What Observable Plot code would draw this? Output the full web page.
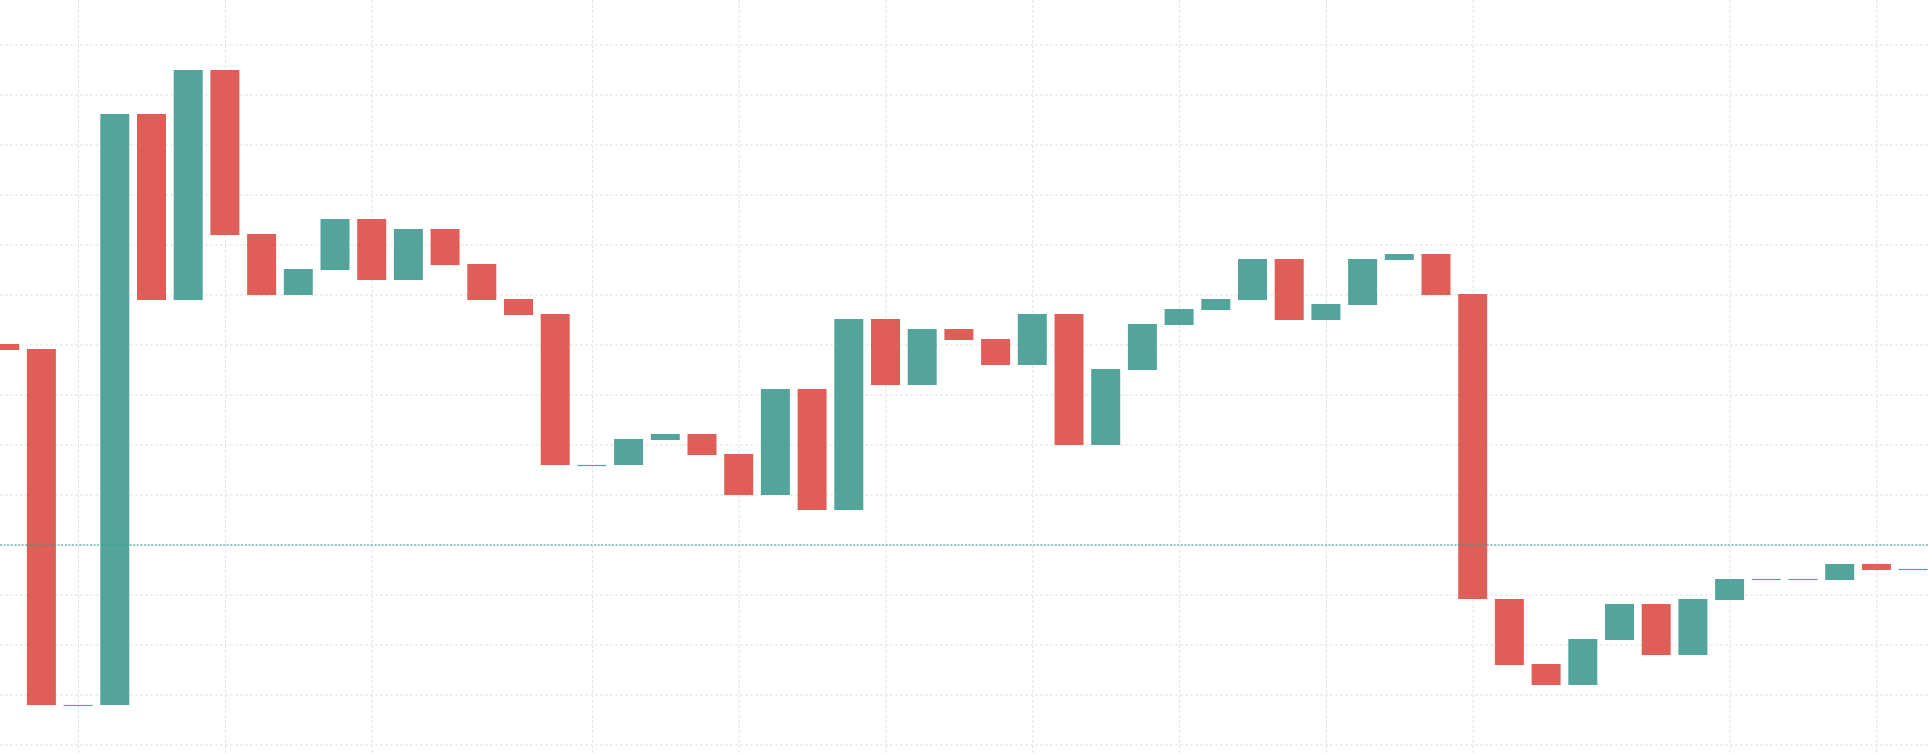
<!DOCTYPE html>
<html>
<head>
<meta charset="utf-8">
<script src="https://cdn.jsdelivr.net/npm/d3@7"></script>
<script src="https://cdn.jsdelivr.net/npm/@observablehq/plot@0.6"></script>
<style>
  html, body { margin: 0; padding: 0; background: #ffffff; overflow: hidden; }
  #chart svg { display: block; }
</style>
</head>
<body>
<div id="chart"></div>
<script>
// Candle open / close values (price units)
const opens = [
  180.1, 179.1, 107.9, 107.9, 226.1, 188.9, 234.9, 202.1, 189.9, 194.9,
  205.1, 192.9, 203.1, 196.1, 189.1, 186.1, 155.9, 155.9, 160.9, 162.1,
  158.1, 149.9, 171.1, 146.9, 185.1, 171.9, 183.1, 181.1, 175.9, 186.1,
  159.9, 174.9, 183.9, 186.9, 188.9, 197.1, 184.9, 187.9, 196.9, 198.1,
  190.1, 129.1, 116.1, 111.9, 120.9, 128.1, 117.9, 128.9, 133.1, 133.1,
  132.9, 136.1, 135.1
];
const closes = [
  178.9, 107.9, 107.9, 226.1, 188.9, 234.9, 201.9, 189.9, 195.1, 205.1,
  192.9, 203.1, 195.9, 188.9, 185.9, 155.9, 155.9, 161.1, 162.1, 157.9,
  149.9, 171.1, 146.9, 185.1, 171.9, 183.1, 180.9, 175.9, 186.1, 159.9,
  175.1, 184.1, 187.1, 189.1, 197.1, 184.9, 188.1, 197.1, 198.1, 189.9,
  129.1, 115.9, 111.9, 121.1, 128.1, 117.9, 129.1, 133.1, 133.1, 133.1,
  136.1, 134.9, 135.1
];
// Candle indices carrying a vertical grid line
const gridCandles = [2, 6, 10, 16, 20, 24, 28, 32, 36, 40, 47, 51];
// Horizontal grid levels
const priceTicks = [100, 110, 120, 130, 140, 150, 160, 170, 180, 190, 200, 210, 220, 230, 240];
// Dotted price line level
const priceLine = [140];

const UP = "#53a59b";
const DOWN = "#df5f58";
const HALF = 0.395; // half body width in candle steps

const candles = opens.map((o, i) => ({ i, open: o, close: closes[i] }));
const dojis = candles.filter(d => d.open === d.close);

const chart = Plot.plot({
  width: 1928,
  height: 754,
  margin: 0,
  style: { background: "#ffffff", overflow: "visible" },
  x: { domain: [-0.128, 52.406], axis: null },
  y: { domain: [98.1, 248.9], axis: null },
  color: { type: "identity" },
  marks: [
    Plot.ruleY(priceTicks, { stroke: "#e2e2e2", strokeWidth: 1, strokeDasharray: "3,2" }),
    Plot.ruleX(gridCandles, { stroke: "#e2e2e2", strokeWidth: 1, strokeDasharray: "3,2" }),
    Plot.rectY(candles, {
      x1: d => d.i - HALF,
      x2: d => d.i + HALF,
      y1: "open",
      y2: "close",
      fill: d => (d.close >= d.open ? UP : DOWN)
    }),
    Plot.ruleY(dojis, {
      x1: d => d.i - HALF,
      x2: d => d.i + HALF,
      y: "close",
      stroke: UP,
      strokeWidth: 1.2
    }),
    Plot.ruleY(priceLine, { stroke: "#2a9d90", strokeWidth: 1.2, strokeDasharray: "2,1.6" })
  ]
});
document.getElementById("chart").appendChild(chart);
</script>
</body>
</html>
